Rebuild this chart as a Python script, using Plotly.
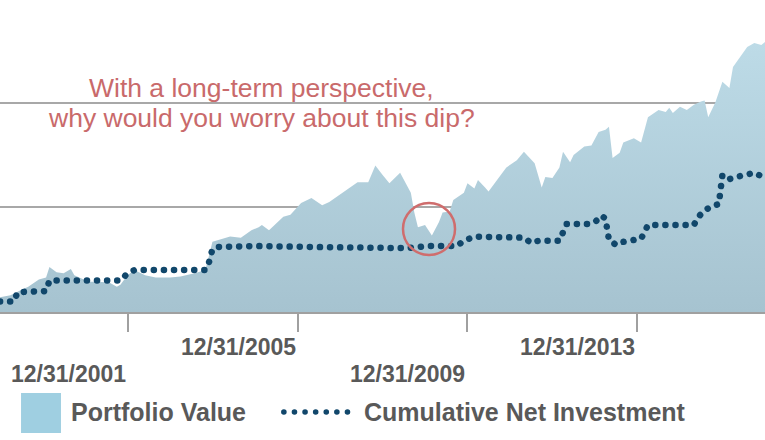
import pandas as pd
import plotly.graph_objects as go

# Data (values in $ thousands, month-end)
portfolio_months = [
    '1998-12', '1999-03', '1999-06', '1999-08', '1999-11', '2000-01', '2000-02', '2000-04',
    '2000-06', '2000-08', '2000-09', '2000-11', '2001-01', '2001-04', '2001-07', '2001-09',
    '2001-10', '2001-12', '2002-02', '2002-05', '2002-08', '2002-12', '2003-03', '2003-07',
    '2003-10', '2003-12', '2004-02', '2004-05', '2004-08', '2004-11', '2005-01', '2005-02',
    '2005-04', '2005-08', '2005-10', '2006-01', '2006-04', '2006-07', '2006-09', '2007-01',
    '2007-05', '2007-08', '2007-10', '2007-12', '2008-02', '2008-05', '2008-07', '2008-08',
    '2008-09', '2008-10', '2008-12', '2009-02', '2009-04', '2009-05', '2009-07', '2009-08',
    '2009-11', '2009-12', '2010-02', '2010-03', '2010-05', '2010-06', '2010-09', '2010-11',
    '2011-02', '2011-04', '2011-07', '2011-09', '2011-10', '2011-12', '2012-02', '2012-03',
    '2012-05', '2012-06', '2012-09', '2012-11', '2013-01', '2013-03', '2013-04', '2013-05',
    '2013-07', '2013-08', '2013-11', '2014-01', '2014-03', '2014-06', '2014-08', '2014-09',
    '2014-10', '2014-12', '2015-02', '2015-04', '2015-06', '2015-07', '2015-08', '2015-10',
    '2015-12', '2016-02', '2016-03', '2016-05', '2016-07', '2016-09', '2016-11', '2016-12',
]
portfolio_value = [
    14, 16, 21, 24, 31, 33, 43, 38,
    37, 41, 35, 32, 29, 29, 28, 24,
    26, 35, 40, 35, 33, 33, 34, 37,
    40, 67, 69, 72, 71, 78, 81, 83,
    78, 91, 93, 104, 109, 102, 105, 115,
    124, 124, 140, 131, 123, 133, 121, 114,
    95, 81, 83, 73, 86, 95, 96, 107,
    114, 123, 118, 126, 119, 115, 129, 138,
    145, 153, 142, 119, 129, 128, 138, 153,
    143, 150, 158, 159, 172, 174, 177, 147,
    152, 162, 166, 162, 186, 193, 191, 195,
    190, 196, 193, 198, 201, 202, 186, 200,
    220, 214, 234, 243, 253, 257, 255, 258,
]

investment_months = [
    '1998-12', '1999-04', '1999-05', '2000-01', '2000-02', '2001-10', '2001-12', '2002-02',
    '2003-10', '2003-11', '2003-12', '2004-01', '2004-12', '2006-04', '2006-06', '2008-07',
    '2008-10', '2009-01', '2009-09', '2009-11', '2010-02', '2010-12', '2011-04', '2011-06',
    '2011-08', '2012-02', '2012-03', '2012-04', '2012-10', '2012-12', '2013-02', '2013-03',
    '2013-04', '2013-06', '2013-08', '2013-11', '2014-01', '2014-03', '2015-04', '2015-05',
    '2015-07', '2015-09', '2015-11', '2015-12', '2016-02', '2016-04', '2016-09', '2016-12',
]
investment_value = [
    10, 10, 19, 20, 30, 30, 37, 40,
    40, 47, 60, 62, 63, 63, 62, 61,
    62, 63, 63, 68, 72, 71, 71, 66,
    68, 68, 75, 84, 84, 86, 92, 89,
    69, 64, 67, 68, 70, 83, 83, 90,
    97, 101, 103, 131, 127, 129, 133, 128,
]

tick_dates = ['2001-12-31', '2005-12-31', '2009-12-31', '2013-12-31']
tick_labels = ['12/31/2001', '12/31/2005', '12/31/2009', '12/31/2013']

callout_lines = ['With a long-term perspective,', 'why would you worry about this dip?']

portfolio_dates = pd.to_datetime(portfolio_months) + pd.offsets.MonthEnd(0)
investment_dates = pd.to_datetime(investment_months) + pd.offsets.MonthEnd(0)

font_family = 'Liberation Sans, Arial, sans-serif'
text_grey = '#595959'
navy = '#11476b'
red = '#c96a6b'

fig = go.Figure()

fig.add_trace(go.Scatter(
    x=portfolio_dates, y=portfolio_value,
    mode='lines', line=dict(width=0),
    fill='tozeroy',
    fillgradient=dict(type='vertical', colorscale=[[0, '#a6c3d0'], [1, '#bddbe7']]),
    name='Portfolio Value', hoverinfo='skip',
))

# dotted line; dashes become round dots via the linecap rule below
fig.add_trace(go.Scatter(
    x=investment_dates, y=investment_value,
    mode='lines', line=dict(color=navy, width=6.5, dash='0.1px,10px'),
    name='Cumulative Net Investment', hoverinfo='skip',
))

fig.update_xaxes(
    range=['1998-12-31', '2016-12-31'],
    tickvals=tick_dates, showticklabels=False,
    ticks='outside', ticklen=18, tickwidth=2, tickcolor='#a0a0a0',
    showline=True, linecolor='#a0a0a0', linewidth=2,
    showgrid=False, zeroline=False,
)
fig.update_yaxes(
    range=[0, 298], tickvals=[100, 200], showticklabels=False,
    showgrid=True, gridcolor='#a8a8a8', gridwidth=1.5,
    zeroline=False, showline=False,
)

# Staggered date labels, right-aligned to their tick
label_rows = [-0.199, -0.112, -0.199, -0.112]
for d, txt, row in zip(tick_dates, tick_labels, label_rows):
    fig.add_annotation(
        x=d, xref='x', y=row, yref='paper', text=txt, showarrow=False,
        xanchor='right', yanchor='middle',
        font=dict(family=font_family, size=23, color=text_grey, weight='bold'),
    )

# Callout text and circle around the 2008-09 dip
for txt, ypos in zip(callout_lines, [0.718, 0.622]):
    fig.add_annotation(
        x=0.342, y=ypos, xref='paper', yref='paper', showarrow=False,
        text=txt, xanchor='center', yanchor='middle',
        font=dict(family=font_family, size=26.5, color=red),
    )
fig.add_shape(
    type='circle', xref='paper', yref='paper',
    x0=0.5268, x1=0.5948, y0=0.1827, y1=0.3494,
    line=dict(color='#cf6d6d', width=2.5),
)

# Hand-made legend
fig.add_shape(
    type='rect', xref='paper', yref='paper',
    x0=0.0275, x1=0.0797, y0=-0.3878, y1=-0.2596,
    fillcolor='#9fcfe1', line=dict(width=0),
)
fig.add_annotation(
    x=0.0902, y=-0.3205, xref='paper', yref='paper', showarrow=False,
    text='Portfolio Value', xanchor='left', yanchor='middle',
    font=dict(family=font_family, size=25, color=text_grey, weight='bold'),
)
fig.add_shape(
    type='line', xref='paper', yref='paper',
    x0=0.371, x1=0.455, y0=-0.3205, y1=-0.3205,
    line=dict(color=navy, width=5.5, dash='0.1px,10.5px'),
)
fig.add_annotation(
    x=0.473, y=-0.3205, xref='paper', yref='paper', showarrow=False,
    text='Cumulative Net Investment', xanchor='left', yanchor='middle',
    font=dict(family=font_family, size=25, color=text_grey, weight='bold'),
)

fig.update_layout(
    width=765, height=440,
    margin=dict(l=0, r=0, t=0, b=128, autoexpand=False),
    plot_bgcolor='white', paper_bgcolor='white',
    showlegend=False,
)

# no page margin, and round caps so the dashes draw as dots
page_css = """
var s = document.createElement('style');
s.textContent = 'body{margin:0} path[style*="stroke-dasharray"]{stroke-linecap:round}';
document.head.appendChild(s);
"""

fig.write_html("out.html", post_script=page_css, config={'displayModeBar': False})
